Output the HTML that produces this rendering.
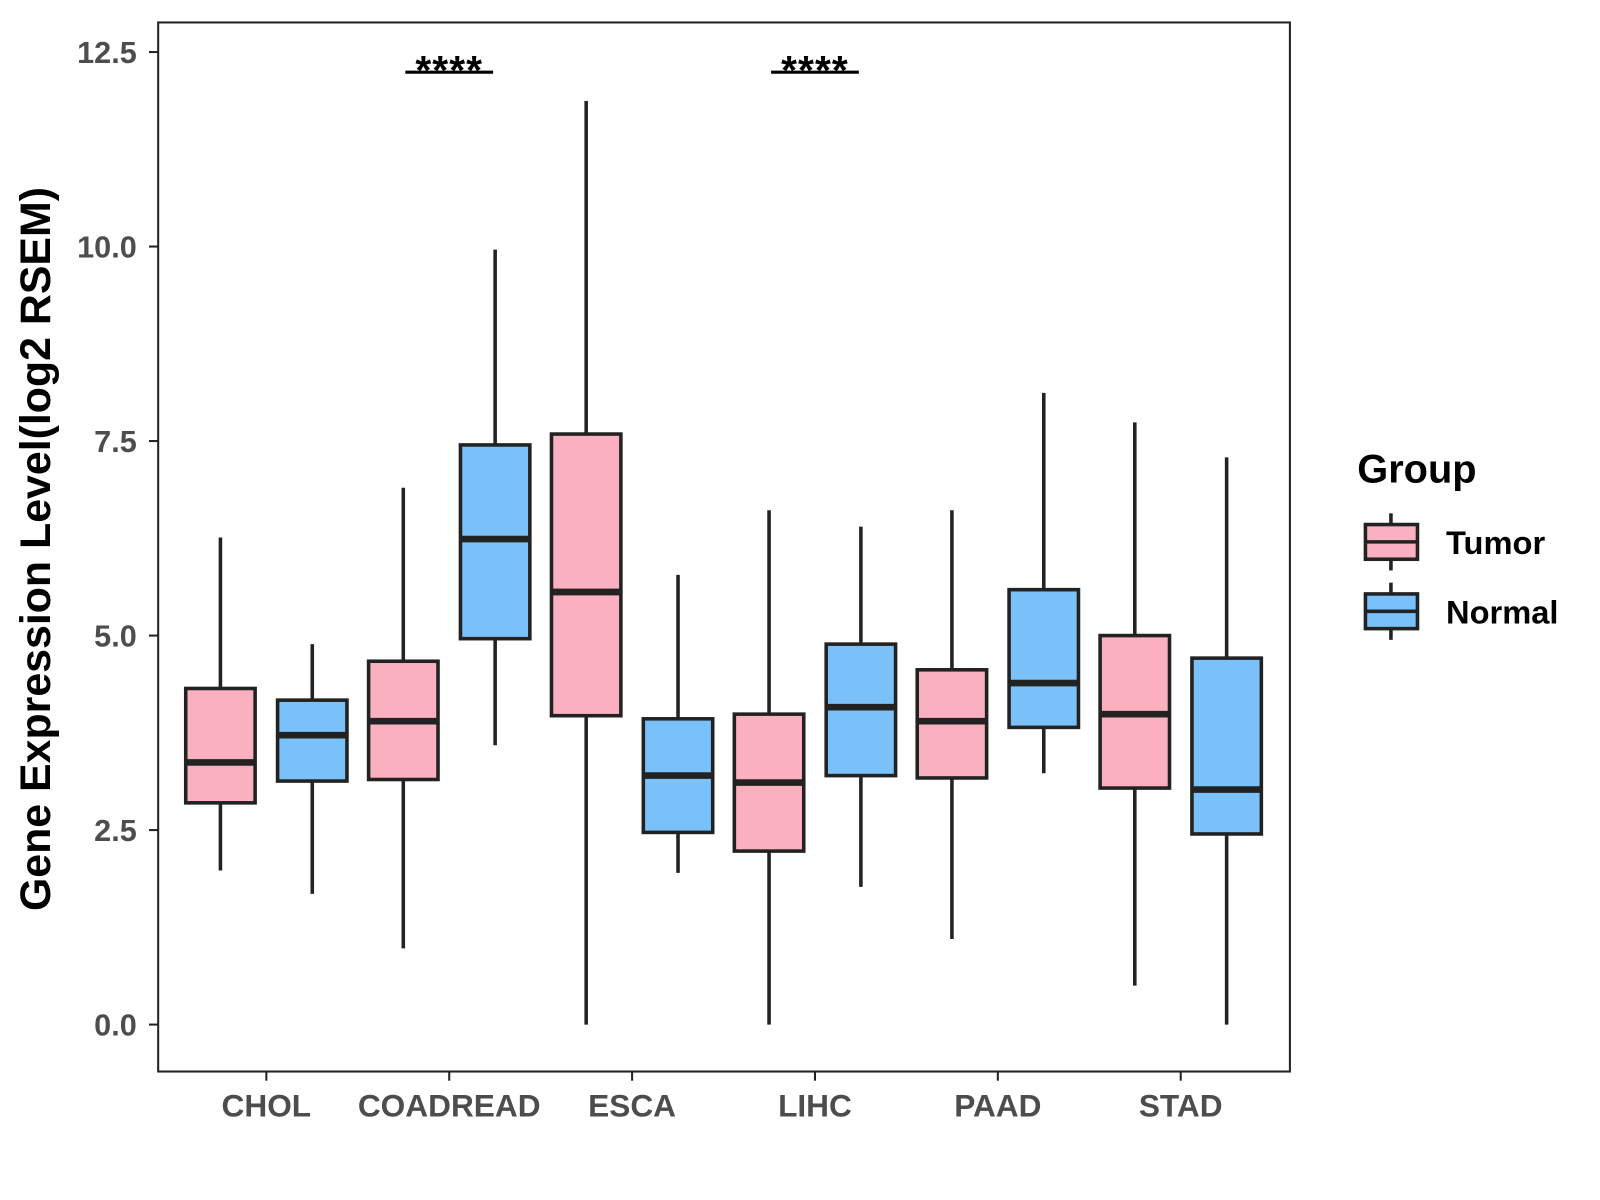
<!DOCTYPE html>
<html><head><meta charset="utf-8"><style>
html,body{margin:0;padding:0;background:#fff;}
svg{display:block;font-family:"Liberation Sans",Arial,sans-serif;}
</style></head><body>
<svg id="chart" width="1600" height="1200" viewBox="0 0 1600 1200">
<g transform="scale(1.0205)">
<rect x="155" y="22" width="1109" height="1028" fill="#fff" stroke="#222" stroke-width="2"/>
<g id="yaxis"></g>
<g id="xaxis"></g>
<g id="boxes"></g>
<g id="sig"></g>
<text x="38" y="538" transform="rotate(-90 38 538)" text-anchor="middle" dominant-baseline="middle" font-size="42" font-weight="bold" fill="#000">Gene Expression Level(log2 RSEM)</text>
<g>
<text x="1330" y="473" font-size="39" font-weight="bold" fill="#000">Group</text>
<g>
<line x1="1363" y1="503" x2="1363" y2="559" stroke="#222" stroke-width="3.5"/>
<rect x="1338" y="514" width="51" height="34" fill="#FBB0C0" stroke="#222" stroke-width="3.5"/>
<line x1="1338" y1="531" x2="1389" y2="531" stroke="#222" stroke-width="3.5"/>
<text x="1417" y="543" font-size="32" font-weight="bold" fill="#000">Tumor</text></g>
<g>
<line x1="1363" y1="571" x2="1363" y2="627" stroke="#222" stroke-width="3.5"/>
<rect x="1338" y="582" width="51" height="34" fill="#79C1F8" stroke="#222" stroke-width="3.5"/>
<line x1="1338" y1="599" x2="1389" y2="599" stroke="#222" stroke-width="3.5"/>
<text x="1417" y="611" font-size="32" font-weight="bold" fill="#000">Normal</text></g>
</g>
</g>
</svg>
<script>
const categories = ["CHOL","COADREAD","ESCA","LIHC","PAAD","STAD"];
const groups = ["Tumor","Normal"];
const tumorMin = [1.98,0.98,0,0,1.10,0.50];
const tumorQ1 = [2.85,3.15,3.97,2.23,3.17,3.04];
const tumorMed = [3.37,3.90,5.56,3.11,3.90,3.99];
const tumorQ3 = [4.32,4.67,7.59,3.99,4.56,5.00];
const tumorMax = [6.26,6.90,11.87,6.61,6.61,7.74];
const normalMin = [1.68,3.59,1.95,1.77,3.23,0];
const normalQ1 = [3.13,4.96,2.47,3.20,3.82,2.45];
const normalMed = [3.72,6.24,3.20,4.08,4.39,3.02];
const normalQ3 = [4.17,7.45,3.93,4.89,5.59,4.71];
const normalMax = [4.89,9.96,5.78,6.40,8.12,7.29];
const yTicks = [0,2.5,5,7.5,10,12.5];
const yTickLabels = ["0.0","2.5","5.0","7.5","10.0","12.5"];
const sigCategories = ["COADREAD","LIHC"];
const sigLabels = ["****","****"];
const sigY = [12.3,12.3];

const NS="http://www.w3.org/2000/svg";
const y = v => 1004 - v*76.24;
const x = c => 261 + categories.indexOf(c)*179.2;
function mk(tag, attrs, parent){const e=document.createElementNS(NS,tag);for(const k in attrs)e.setAttribute(k,attrs[k]);parent.appendChild(e);return e;}
const ya=document.getElementById('yaxis'), xa=document.getElementById('xaxis'), bx=document.getElementById('boxes'), sg=document.getElementById('sig');
yTicks.forEach((t,i)=>{
  const l=mk('line',{x1:146,x2:155,y1:y(t),y2:y(t),stroke:'#222','stroke-width':2},ya);
  
  
  const tx=mk('text',{x:134,y:y(t)+10.5,'text-anchor':'end','font-size':30,'font-weight':'bold',fill:'#4d4d4d'},ya);
  tx.textContent=yTickLabels[i];
  
  
});
categories.forEach(c=>{
  const l=mk('line',{x1:x(c),x2:x(c),y1:1050,y2:1059,stroke:'#222','stroke-width':2},xa);
  
  
  const tx=mk('text',{x:x(c),y:1094,'text-anchor':'middle','font-size':31,'font-weight':'bold',fill:'#4d4d4d'},xa);
  tx.textContent=c;
  
  
});
const series=[
 {off:-45,fill:'#FBB0C0',mn:tumorMin,q1:tumorQ1,md:tumorMed,q3:tumorQ3,mx:tumorMax,name:'tumor'},
 {off:45,fill:'#79C1F8',mn:normalMin,q1:normalQ1,md:normalMed,q3:normalQ3,mx:normalMax,name:'normal'}];
series.forEach(s=>{
  categories.forEach((c,i)=>{
    const cx=x(c)+s.off, w=68;
    const g=mk('g',{},bx);
    
    
    mk('line',{x1:cx,x2:cx,y1:y(s.mx[i]),y2:y(s.mn[i]),stroke:'#222','stroke-width':3.5},g);
    mk('rect',{x:cx-w/2,y:y(s.q3[i]),width:w,height:y(s.q1[i])-y(s.q3[i]),fill:s.fill,stroke:'#222','stroke-width':3.5},g);
    mk('line',{x1:cx-w/2,x2:cx+w/2,y1:y(s.md[i]),y2:y(s.md[i]),stroke:'#222','stroke-width':6.5},g);
  });
});
sigCategories.forEach((c,i)=>{
  const cx=x(c);
  const l=mk('line',{x1:cx-43,x2:cx+43,y1:y(sigY[i])+4.5,y2:y(sigY[i])+4.5,stroke:'#000','stroke-width':3},sg);
  
  
  const t=mk('text',{x:cx,y:y(sigY[i])+16,'text-anchor':'middle','font-size':40,'font-weight':'bold','letter-spacing':1,fill:'#000'},sg);
  t.textContent=sigLabels[i];
  
  
});
</script>
</body></html>
